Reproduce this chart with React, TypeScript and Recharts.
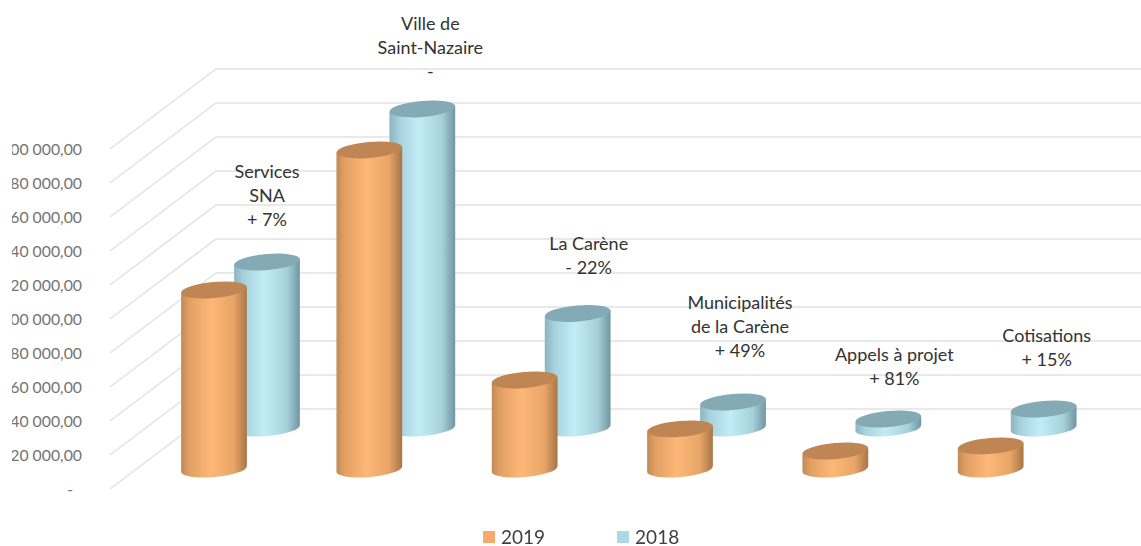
import { BarChart, Bar, XAxis, YAxis, Legend, LabelList, CartesianGrid } from 'recharts';

const categories = [
  'Services SNA',
  'Ville de Saint-Nazaire',
  'La Carène',
  'Municipalités de la Carène',
  'Appels à projet',
  'Cotisations',
];
const values2019 = [105300, 187700, 52400, 23600, 10600, 13600];
const values2018 = [97600, 187700, 67400, 15300, 5300, 11200];

const annotations = [
  ['Services', 'SNA', '+ 7%'],
  ['Ville de', 'Saint-Nazaire', '-'],
  ['La Carène', '- 22%'],
  ['Municipalités', 'de la Carène', '+ 49%'],
  ['Appels à projet', '+ 81%'],
  ['Cotisations', '+ 15%'],
];

const yTicks = [0, 20000, 40000, 60000, 80000, 100000, 120000, 140000, 160000, 180000, 200000];
// the first digit is cut off in the source image, so it is left out here too
const yTickLabels = [
  '-',
  '20 000,00',
  '40 000,00',
  '60 000,00',
  '80 000,00',
  '00 000,00',
  '20 000,00',
  '40 000,00',
  '60 000,00',
  '80 000,00',
  '00 000,00',
];

const legendItems = [
  { name: '2019', color: '#F6AB6C' },
  { name: '2018', color: '#ABD9E6' },
];

// fake 3D layout
const FONT = 'Lato, sans-serif';
const WALL_DX = 106;
const WALL_DY = 80;
const FRONT_X = 110;
const RX = 33;
const RY = 8;
const TILT = 5;
const DEPTH_2018 = { dx: 26.5, dy: -61 };
const DEPTH_2019 = { dx: -26.5, dy: -20 };
const LABEL_SHIFT = [
  { dx: 0, lift: 90 },
  { dx: 8, lift: 85 },
  { dx: 11, lift: 69 },
  { dx: 7, lift: 99 },
  { dx: 6, lift: 64 },
  { dx: 3, lift: 73 },
];

const rows = categories.map((category, i) => ({
  category,
  v2019: values2019[i],
  v2018: values2018[i],
}));

function WallLine({ y1 }: any) {
  return (
    <polyline
      points={`${FRONT_X},${y1} ${FRONT_X + WALL_DX},${y1 - WALL_DY} 1141,${y1 - WALL_DY}`}
      fill="none"
      stroke="#E2E2E2"
      strokeWidth={1.5}
    />
  );
}

function ValueTick({ y, index }: any) {
  const label = yTickLabels[index];
  return (
    <text
      x={label === '-' ? 73 : 82}
      y={y + 2}
      textAnchor="end"
      dominantBaseline="middle"
      fontFamily={FONT}
      fontSize={15.8}
      fill="#737373"
      clipPath="url(#tickClip)"
    >
      {label}
    </text>
  );
}

function Cylinder({ x, y, width, height, dx, dy, body, top }: any) {
  const cx = x + width / 2 + dx;
  const topY = y + dy;
  const botY = y + height + dy;
  const rad = (TILT * Math.PI) / 180;
  const ex = RX * Math.cos(rad);
  const ey = RX * Math.sin(rad);
  const side = `M${cx - ex},${topY + ey} L${cx - ex},${botY + ey} A${RX},${RY} ${-TILT} 0 0 ${cx + ex},${botY - ey} L${cx + ex},${topY - ey} Z`;
  return (
    <g>
      <path d={side} fill={`url(#${body})`} />
      <ellipse
        cx={cx}
        cy={topY}
        rx={RX}
        ry={RY}
        fill={top}
        transform={`rotate(${-TILT} ${cx} ${topY})`}
      />
    </g>
  );
}

function Annotation({ x, y, width, index }: any) {
  const lines = annotations[index];
  const shift = LABEL_SHIFT[index];
  const cx = x + width / 2 + DEPTH_2018.dx + shift.dx;
  const firstY = y + DEPTH_2018.dy - shift.lift;
  return (
    <text textAnchor="middle" fontFamily={FONT} fontSize={18} fill="#333333">
      {lines.map((line, i) => (
        <tspan key={i} x={cx} y={firstY + i * 24 + 6}>
          {line}
        </tspan>
      ))}
    </text>
  );
}

function LegendRow() {
  return (
    <div style={{ display: 'flex', gap: 72, fontFamily: FONT, fontSize: 19, lineHeight: '20px', color: '#3f3f3f' }}>
      {legendItems.map((item) => (
        <div key={item.name} style={{ display: 'flex', alignItems: 'center', gap: 6 }}>
          <span style={{ width: 12, height: 12, background: item.color, display: 'block' }} />
          <span>{item.name}</span>
        </div>
      ))}
    </div>
  );
}

export default function App() {
  return (
    <div
      style={{
        position: 'absolute',
        left: 0,
        top: 0,
        width: 1141,
        height: 546,
        background: '#fff',
        filter: 'blur(0.5px)',
      }}
    >
      <BarChart
        width={1141}
        height={546}
        data={rows}
        barSize={65}
        barGap={-65}
        margin={{ top: 149, right: 46, bottom: 57, left: 0 }}
      >
        <defs>
          <clipPath id="tickClip">
            <rect x={12} y={0} width={200} height={546} />
          </clipPath>
          <linearGradient id="body2019" x1="0" y1="0" x2="1" y2="0">
            <stop offset="0" stopColor="#C08A58" />
            <stop offset="0.12" stopColor="#E29F63" />
            <stop offset="0.45" stopColor="#FDB877" />
            <stop offset="0.8" stopColor="#E8A567" />
            <stop offset="1" stopColor="#A87548" />
          </linearGradient>
          <linearGradient id="body2018" x1="0" y1="0" x2="1" y2="0">
            <stop offset="0" stopColor="#8DB4BF" />
            <stop offset="0.15" stopColor="#A8D2DE" />
            <stop offset="0.45" stopColor="#C2EDF7" />
            <stop offset="0.8" stopColor="#A7D0DB" />
            <stop offset="1" stopColor="#6F96A1" />
          </linearGradient>
        </defs>
        <CartesianGrid vertical={false} horizontal={WallLine} horizontalValues={yTicks} />
        <XAxis dataKey="category" hide />
        <YAxis
          width={163}
          domain={[0, 200000]}
          ticks={yTicks}
          interval={0}
          axisLine={false}
          tickLine={false}
          tick={ValueTick}
        />
        <Legend
          layout="horizontal"
          verticalAlign="middle"
          content={LegendRow}
          wrapperStyle={{ left: 483, top: 527, width: 260, height: 20 }}
        />
        <Bar
          dataKey="v2018"
          isAnimationActive={false}
          shape={(p: any) => <Cylinder {...p} {...DEPTH_2018} body="body2018" top="#84AAB6" />}
        >
          <LabelList dataKey="v2018" content={Annotation} />
        </Bar>
        <Bar
          dataKey="v2019"
          isAnimationActive={false}
          shape={(p: any) => <Cylinder {...p} {...DEPTH_2019} body="body2019" top="#BF8653" />}
        />
      </BarChart>
    </div>
  );
}
